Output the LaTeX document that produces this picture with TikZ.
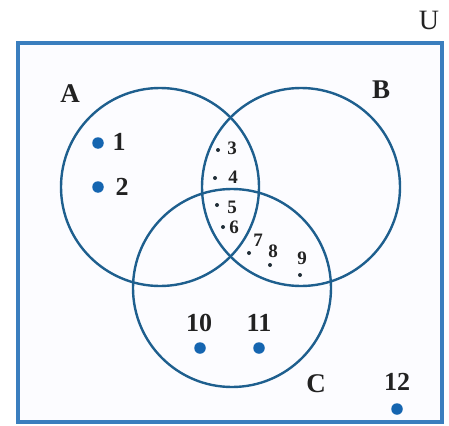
\documentclass[tikz,border=0pt]{standalone}
\usepackage{fontspec}
\setmainfont{Liberation Serif}
\definecolor{circ}{HTML}{1E5F8E}
\definecolor{framec}{HTML}{3A7EBE}
\definecolor{dotc}{HTML}{1565B0}
\definecolor{txt}{HTML}{222222}
\begin{document}
\begin{tikzpicture}[x=1pt,y=-1pt,
 setc/.style={circle,draw=circ,line width=2.4pt,inner sep=0pt,minimum size=198pt},
 bigdot/.style={circle,fill=dotc,inner sep=0pt,minimum size=11.5pt},
 smalldot/.style={circle,fill=txt!80!circ,inner sep=0pt,minimum size=4pt},
 setlabel/.style={font=\fontsize{27}{27}\selectfont\bfseries,text=txt,inner sep=0pt},
 univlabel/.style={font=\fontsize{28}{28}\selectfont,text=txt,inner sep=0pt},
 biglab/.style={font=\fontsize{26}{26}\selectfont\bfseries,text=txt,inner sep=0pt},
 smalllab/.style={font=\fontsize{19}{19}\selectfont\bfseries,text=txt,inner sep=0pt}]
\useasboundingbox (0,0) rectangle (449,425);
\node[draw=framec,line width=3.5pt,fill=blue!1,minimum width=424pt,minimum height=379pt,inner sep=0pt] (box) at (230,232.5) {};
\node[setc] (A) at (160,187) {};
\node[setc] (B) at (301,187) {};
\node[setc] (C) at (232,288) {};
\node[univlabel] (lU) at (429,20) {U};
\node[setlabel] (lA) at (70,94) {A};
\node[setlabel] (lB) at (381,90) {B};
\node[setlabel] (lC) at (316,384) {C};
% A only
\node[bigdot] (d1) at (98,143) {};
\node[biglab] (n1) at (119,142) {1};
\node[bigdot] (d2) at (98,187) {};
\node[biglab] (n2) at (122,187) {2};
% intersections
\node[smalldot] (d3) at (218,150) {};
\node[smalllab] (n3) at (232,148) {3};
\node[smalldot] (d4) at (215,178) {};
\node[smalllab] (n4) at (233,177) {4};
\node[smalldot] (d5) at (217,205) {};
\node[smalllab] (n5) at (232,207) {5};
\node[smalldot] (d6) at (223,227) {};
\node[smalllab] (n6) at (234,227) {6};
\node[smalldot] (d7) at (249,253) {};
\node[smalllab] (n7) at (258,240) {7};
\node[smalldot] (d8) at (270,265) {};
\node[smalllab] (n8) at (273,251) {8};
\node[smalldot] (d9) at (300,275) {};
\node[smalllab] (n9) at (302,258) {9};
% C only
\node[bigdot] (d10) at (200,348) {};
\node[biglab] (n10) at (199,323) {10};
\node[bigdot] (d11) at (259,348) {};
\node[biglab] (n11) at (259,323) {11};
% outside
\node[bigdot] (d12) at (397,409) {};
\node[biglab] (n12) at (397,382) {12};
\end{tikzpicture}
\end{document}
